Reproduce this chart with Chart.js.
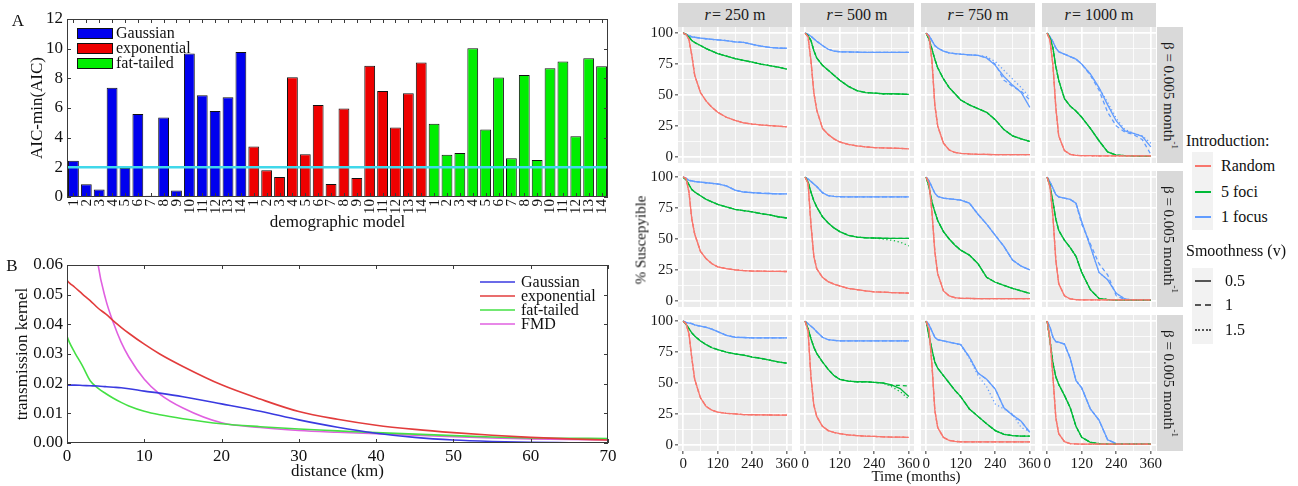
<!DOCTYPE html>
<html><head><meta charset="utf-8">
<script src="https://cdn.jsdelivr.net/npm/chart.js@4/dist/chart.umd.min.js"></script>
<style>
html,body{margin:0;padding:0;background:#fff;}
#fig{position:relative;width:1298px;height:486px;overflow:hidden;font-family:'Liberation Serif',serif;color:#111;}
canvas{position:absolute;}
.t{position:absolute;white-space:nowrap;line-height:1;font-family:'Liberation Serif',serif;font-weight:normal;}
.strip{position:absolute;background:#D9D9D9;color:#1A1A1A;font-size:16px;display:flex;align-items:center;justify-content:center;white-space:nowrap;font-family:'Liberation Serif',serif;font-weight:normal;}
.vstrip{writing-mode:vertical-rl;}
.key{position:absolute;background:#F2F2F2;}
.kl{position:absolute;}
</style></head><body><div id="fig"></div>
<script>
// ---------------- Panel A data ----------------
const demographicModels = ['1','2','3','4','5','6','7','8','9','10','11','12','13','14'];
const gaussianAIC    = [2.45,0.86,0.5,7.36,1.95,5.59,0.08,5.36,0.43,9.68,6.86,5.8,6.73,9.77];
const exponentialAIC = [3.4,1.8,1.34,8.07,2.89,6.21,0.87,5.96,1.28,8.85,7.15,4.69,7.0,9.06];
const fatTailedAIC   = [4.93,2.85,2.96,10.02,4.55,8.05,2.62,8.23,2.49,8.68,9.13,4.1,9.35,8.81];
const aicThreshold = 2;

// ---------------- Panel B data ----------------
const distanceKm   = [0,0.3,1,2,3,4,5,6,7,8,10,12,15,20,25,30,35,40,45,50,55,60,65,70];
const kernelGauss  = [0.0195,0.0195,0.0195,0.0194,0.0193,0.0192,0.019,0.0188,0.0186,0.0183,0.0175,0.0168,0.0156,0.0132,0.0107,0.0078,0.0053,0.0033,0.0019,0.001,0.0005,0.0002,0.0001,0.0];
const kernelExp    = [0.0548,0.054,0.0525,0.0502,0.048,0.0455,0.0435,0.0412,0.039,0.037,0.0333,0.030,0.0258,0.0196,0.0148,0.0106,0.008,0.006,0.0046,0.0035,0.0026,0.0019,0.0014,0.001];
const kernelFat    = [0.036,0.034,0.0305,0.026,0.021,0.0185,0.0167,0.0151,0.0137,0.0125,0.0107,0.0095,0.0082,0.0065,0.0055,0.0047,0.0041,0.0035,0.003,0.0025,0.002,0.0017,0.0016,0.0015];
const kernelFMD    = [0.053,0.25,0.2,0.12,0.085,0.0605,0.0485,0.0405,0.034,0.029,0.0215,0.0165,0.0118,0.0068,0.0052,0.0042,0.0036,0.0031,0.0026,0.0021,0.0017,0.0014,0.0012,0.0011];

// ---------------- Right grid data ----------------
const months = [0,10,20,30,40,60,80,100,120,150,180,210,240,270,300,330,360];
const radiusLabels = ['250','500','750','1000'];
const betaLabel = '0.005';
// rows = beta facets (3), each entry = one radius (250,500,750,1000); v = 0.5 (solid)
const randomRow1 = [
  [100,99,95,82,66,52,45,40,36,32,29.5,27.5,26.5,25.8,25.3,24.8,24.3],
  [100,97,78,52,38,23,18,14.5,12,10,8.8,8,7.5,7.2,7,6.8,6.5],
  [100,97,78,42,25,11,5.5,3.5,2.8,2.3,2,1.9,1.8,1.8,1.8,1.8,1.8],
  [100,94,74,40,17,5,2,1.2,1,0.9,0.8,0.8,0.8,0.8,0.8,0.8,0.8]];
const fociRow1 = [
  [100,99,97,94,92.5,90,87.5,85.5,83.5,81.5,79.5,78,76.5,75,73.8,72.5,71],
  [100,98,94,86,80,74,70,66,62,57,53.5,52,51.5,51,51,50.8,50.5],
  [100,95,87,79,72,63,56,51,46,42,39,36,30,22,17,14.5,12.5],
  [100,96,88,73,62,47,41,37,32,23,13,4,1.3,1,0.7,0.5,0.5]];
const focusRow1 = [
  [100,99,98,97,96.7,96,95.5,95,94.6,94,93,92.5,91,89.5,88.5,88,87.8],
  [100,99,97.5,95.5,93.5,90,87,85.5,85,84.8,84.6,84.5,84.5,84.5,84.5,84.5,84.5],
  [100,98,94,90,88,85.5,84,83.5,83,82.5,82,80,74,65,58,52,40],
  [100,97,93,88,85,83,81,79,75,67,56,42,29,21,19,16.5,8]];
const randomRow2 = [
  [100,99,88,66,54,40,34,30,27.5,26,25,24.5,24,24,23.8,23.8,23.7],
  [100,95,62,36,26,19,15.5,13.5,12,10,9,8,7.3,7,6.7,6.5,6.2],
  [100,95,72,40,22,8,4,2.5,2,1.9,1.8,1.8,1.8,1.8,1.8,1.8,1.8],
  [100,92,68,33,14,4,1.5,1,0.8,0.8,0.8,0.8,0.8,0.8,0.8,0.8,0.8]];
const fociRow2 = [
  [100,98,94,90,88,85,82,80,78,76,74,73,72,70.5,69.5,68,67],
  [100,96,88,81,76,68,63,59,56,53,51.5,51,50.8,50.6,50.5,50.5,50.5],
  [100,92,80,72,65,56,50,45,41,37,30,19,15,12.5,10,8,6],
  [100,93,80,66,57,49,43,36,23,9,2,1,0.5,0.5,0.5,0.5,0.5]];
const focusRow2 = [
  [100,99,97.5,97,96.5,96,95.5,95,94.5,93,89.5,88,87.5,87,86.8,86.5,86.5],
  [100,98.5,96.5,94.5,92.5,87.5,85,84.5,84.2,84,84,84,84,84,84,84,84],
  [100,97,92,87,84.5,83,82.5,82,81.5,79,70,62,53,44,33,28,25],
  [100,96,91,86,84,83,82,79,64,44,23,17,6,1.5,0.5,0.5,0.5]];
const randomRow3 = [
  [100,98,90,70,53,38,31,28,26.5,25.5,25,24.5,24.3,24.2,24.1,24,24],
  [100,92,55,32,23,15,11.5,10,9,8,7.5,7,6.8,6.5,6.3,6.2,6],
  [100,93,65,28,14,6,3.5,2.8,2.5,2.4,2.3,2.3,2.3,2.3,2.3,2.3,2.3],
  [100,85,55,22,9,2.5,1,0.7,0.5,0.5,0.5,0.5,0.5,0.5,0.5,0.5,0.5]];
const fociRow3 = [
  [100,97.5,94,90.5,88,84,81,78.5,77,75,73.5,72.5,71,70,68.5,67,66],
  [100,94,86,79,74,67,61,56,53,51.5,51,51,50.5,50,48.5,45.5,39],
  [100,88,77,67,62,56,50,44,39,29,23,17,11.5,8.5,7.5,7,7],
  [100,84,66,55,49,40,30,15,6,2,1,0.5,0.5,0.5,0.5,0.5,0.5]];
const focusRow3 = [
  [100,99,98.5,98,97,96,95,93.5,91.5,88.5,87,86.8,86.5,86.5,86.5,86.5,86.5],
  [100,98,96,94,91.5,87,85,84.5,84,84,84,84,84,84,84,84,84],
  [100,97,92,87,85,84,83,82,81,71,58,53,45,30,24,19,10],
  [100,95,87,83.5,83,81.5,70,52,46,29,20,4,1,0.5,0.5,0.5,0.5]];
// curves for v = 1 (dashed) / v = 1.5 (dotted) where they separate from v = 0.5
const focusR750Row1Dashed  = [100,98,94,90,88,85.5,84,83.5,83,82.5,82,80,75,62,57,53,46];
const focusR750Row1Dotted  = [100,98,94,90,88,85.5,84,83.5,83,82.5,82,81,77,70,63,56,48];
const focusR1000Row1Dashed = [100,97,93,88,85,83,81,79,75,66,54,36,25,20,18,14,2];
const focusR1000Row1Dotted = [100,97,93,88,85,83,81,79,75,67,56,44,31,22,19,17,11];
const fociR500Row2Dotted   = [100,96,88,81,76,68,63,59,56,53,51.5,51,50.8,50,49,47.5,44.5];
const focusR1000Row2Dashed = [100,96,91,86,84,83,82,79,62,46,30,21,4,1,0.5,0.5,0.5];
const fociR500Row3Dashed   = [100,94,86,79,74,67,61,56,53,51.5,51,51,50.5,50,48,48,47.5];
const fociR500Row3Dotted   = [100,94,86,79,74,67,61,56,53,51.5,51,51,50.5,50,47,43,37];
const focusR750Row3Dotted  = [100,97,92,87,85,84,83,82,81,70,56,47,33,29,25,14,11];

const introNames  = ['Random','5 foci','1 focus'];
const introColors = ['#F8766D','#00BA38','#619CFF'];
const smoothLabels = ['0.5','1','1.5'];
const smoothDashes = [[], [4,3], [1.2,2.6]];

const introRows = [
  [randomRow1, randomRow2, randomRow3],
  [fociRow1, fociRow2, fociRow3],
  [focusRow1, focusRow2, focusRow3]];
const variantTable = [
  {row:0,col:2,intro:2,smooth:1,values:focusR750Row1Dashed},
  {row:0,col:2,intro:2,smooth:2,values:focusR750Row1Dotted},
  {row:0,col:3,intro:2,smooth:1,values:focusR1000Row1Dashed},
  {row:0,col:3,intro:2,smooth:2,values:focusR1000Row1Dotted},
  {row:1,col:1,intro:1,smooth:2,values:fociR500Row2Dotted},
  {row:1,col:3,intro:2,smooth:1,values:focusR1000Row2Dashed},
  {row:2,col:1,intro:1,smooth:1,values:fociR500Row3Dashed},
  {row:2,col:1,intro:1,smooth:2,values:fociR500Row3Dotted},
  {row:2,col:2,intro:2,smooth:2,values:focusR750Row3Dotted}];

// ---------------- helpers ----------------
const SERIF = "'Liberation Serif', serif";
const fig = document.getElementById('fig');
function addCanvas(left, top, w, h) {
  const c = document.createElement('canvas');
  c.width = w; c.height = h;
  c.style.left = left + 'px'; c.style.top = top + 'px';
  c.style.width = w + 'px'; c.style.height = h + 'px';
  fig.appendChild(c);
  return c;
}
function addText(html, x, y, size, opts = {}) {
  const d = document.createElement('div');
  d.className = 't';
  d.innerHTML = html;
  d.style.fontSize = size + 'px';
  d.style.left = x + 'px'; d.style.top = y + 'px';
  let tr = opts.anchor === 'left' ? 'translate(0,-50%)' : 'translate(-50%,-50%)';
  if (opts.rotate) tr += ' rotate(' + opts.rotate + 'deg)';
  d.style.transform = tr;
  if (opts.color) d.style.color = opts.color;
  fig.appendChild(d);
  return d;
}

const boxTicks = {
  id: 'boxTicks',
  afterDatasetsDraw(chart, args, o) {
    const {ctx, chartArea: a} = chart;
    const xs = chart.scales.x, ys = chart.scales.y;
    const L = o.len || 4;
    ctx.save();
    ctx.strokeStyle = '#3a3a3a'; ctx.lineWidth = 1;
    ctx.beginPath();
    xs.ticks.forEach((t, i) => {
      const x = Math.round(xs.getPixelForTick(i)) + 0.5;
      ctx.moveTo(x, a.top); ctx.lineTo(x, a.top + L);
      ctx.moveTo(x, a.bottom); ctx.lineTo(x, a.bottom - L);
    });
    ys.ticks.forEach((t, i) => {
      const y = Math.round(ys.getPixelForTick(i)) + 0.5;
      ctx.moveTo(a.left, y); ctx.lineTo(a.left + L, y);
      ctx.moveTo(a.right, y); ctx.lineTo(a.right - L, y);
    });
    ctx.stroke();
    ctx.strokeRect(Math.round(a.left) + 0.5, Math.round(a.top) + 0.5, Math.round(a.width) - 1, Math.round(a.height) - 1);
    ctx.restore();
  }
};
const refLine = {
  id: 'refLine',
  afterDatasetsDraw(chart, args, o) {
    if (o.value === undefined) return;
    const {ctx, chartArea: a} = chart;
    const y = chart.scales.y.getPixelForValue(o.value);
    ctx.save();
    ctx.strokeStyle = o.color; ctx.lineWidth = o.width;
    ctx.beginPath(); ctx.moveTo(a.left + 1, y); ctx.lineTo(a.right - 1, y); ctx.stroke();
    ctx.restore();
  }
};
// vertical (rotated 90deg) category labels, end of the text at the axis like the original
const rotatedLabels = {
  id: 'rotatedLabels',
  afterDraw(chart, args, o) {
    if (!o.font) return;
    const {ctx, chartArea: a} = chart;
    const xs = chart.scales.x;
    ctx.save();
    ctx.font = o.font; ctx.fillStyle = '#111';
    ctx.textAlign = 'right'; ctx.textBaseline = 'middle';
    xs.ticks.forEach((t, i) => {
      const x = xs.getPixelForTick(i);
      ctx.save();
      ctx.translate(x + 0.5, a.bottom + o.gap);
      ctx.rotate(-Math.PI / 2);
      ctx.fillText(chart.data.labels[i], 0, 0);
      ctx.restore();
    });
    ctx.restore();
  }
};
const inlineLegend = {
  id: 'inlineLegend',
  afterDraw(chart, args, o) {
    if (!o.kind) return;
    const {ctx, chartArea: a} = chart;
    ctx.save();
    ctx.font = o.font; ctx.textBaseline = 'middle';
    chart.data.datasets.forEach((ds, k) => {
      if (!ds.label) return;
      const y = a.top + o.y0 + k * o.dy;
      const x0 = (o.anchor === 'right' ? a.right : a.left) + o.x0;
      if (o.kind === 'box') {
        ctx.fillStyle = ds.backgroundColor;
        ctx.fillRect(x0, y - 5.5, o.w, 11);
        ctx.strokeStyle = '#111'; ctx.lineWidth = 1;
        ctx.strokeRect(x0 + 0.5, y - 5, o.w - 1, 10);
      } else {
        ctx.strokeStyle = ds.borderColor; ctx.lineWidth = 1.6;
        ctx.beginPath(); ctx.moveTo(x0, y); ctx.lineTo(x0 + o.w, y); ctx.stroke();
      }
      ctx.fillStyle = '#111';
      ctx.fillText(ds.label, x0 + o.w + o.gap, y + 0.5);
    });
    ctx.restore();
  }
};

// ---------------- Panel A ----------------
(function () {
  const labels = [...demographicModels, ...demographicModels, ...demographicModels];
  const n = demographicModels.length;
  const blank = new Array(n).fill(null);
  const cv = addCanvas(0, 0, 625, 240);
  new Chart(cv, {
    type: 'bar',
    data: {
      labels,
      datasets: [
        {label: 'Gaussian', data: [...gaussianAIC, ...blank, ...blank], backgroundColor: '#0000EE'},
        {label: 'exponential', data: [...blank, ...exponentialAIC, ...blank], backgroundColor: '#EE0000'},
        {label: 'fat-tailed', data: [...blank, ...blank, ...fatTailedAIC], backgroundColor: '#00EE00'}
      ].map(d => Object.assign(d, {borderColor: '#111', borderWidth: 1, barPercentage: 0.84, categoryPercentage: 1, borderSkipped: 'start'}))
    },
    options: {
      responsive: false, animation: false,
      layout: {padding: {left: 0, top: 19, right: 17, bottom: 0}},
      plugins: {
        legend: {display: false}, tooltip: {enabled: false},
        refLine: {value: aicThreshold, color: '#40D8EA', width: 2.5},
        inlineLegend: {kind: 'box', anchor: 'left', x0: 10, y0: 14.5, dy: 15, w: 36, gap: 3, font: '16px ' + SERIF},
        rotatedLabels: {font: '15px ' + SERIF, gap: 2},
        boxTicks: {len: 4}
      },
      scales: {
        x: {
          stacked: true,
          grid: {display: false}, border: {display: false},
          ticks: {display: false},
          title: {display: true, text: 'demographic model', color: '#111', font: {family: SERIF, size: 17}, padding: {top: 0, bottom: 7}},
          afterFit: s => { s.height = 43; s.paddingLeft = 0; s.paddingRight = 0; }
        },
        y: {
          stacked: true, min: 0, max: 12,
          grid: {display: false, drawTicks: false}, border: {display: false},
          ticks: {stepSize: 2, padding: 4, color: '#111', font: {family: SERIF, size: 17}},
          title: {display: true, text: 'AIC-min(AIC)', color: '#111', font: {family: SERIF, size: 17}, padding: {top: 27, bottom: 0}},
          afterFit: s => { s.width = 67; s.paddingTop = 0; s.paddingBottom = 0; }
        }
      }
    },
    plugins: [boxTicks, refLine, rotatedLabels, inlineLegend]
  });
})();

// ---------------- Panel B ----------------
(function () {
  const cv = addCanvas(0, 240, 625, 246);
  const mk = (label, vals, color) => ({
    label, data: distanceKm.map((d, i) => ({x: d, y: vals[i]})),
    borderColor: color, borderWidth: 1.6, pointRadius: 0, cubicInterpolationMode: 'monotone', fill: false
  });
  new Chart(cv, {
    type: 'line',
    data: {datasets: [
      mk('Gaussian', kernelGauss, '#3A3AE0'),
      mk('exponential', kernelExp, '#E23C3C'),
      mk('fat-tailed', kernelFat, '#44E044'),
      mk('FMD', kernelFMD, '#E060E0')
    ]},
    options: {
      responsive: false, animation: false,
      layout: {padding: {left: 0, top: 25, right: 17, bottom: 0}},
      plugins: {
        legend: {display: false}, tooltip: {enabled: false},
        inlineLegend: {kind: 'line', anchor: 'right', x0: -128, y0: 17, dy: 14, w: 35, gap: 6, font: '16px ' + SERIF},
        boxTicks: {len: 4}
      },
      scales: {
        x: {
          type: 'linear', min: 0, max: 70,
          grid: {display: false, drawTicks: false}, border: {display: false},
          ticks: {stepSize: 10, padding: 3, color: '#111', font: {family: SERIF, size: 17}},
          title: {display: true, text: 'distance (km)', color: '#111', font: {family: SERIF, size: 17}, padding: {top: 0, bottom: 4}},
          afterFit: s => { s.height = 43; s.paddingLeft = 0; s.paddingRight = 0; }
        },
        y: {
          min: 0, max: 0.06,
          grid: {display: false, drawTicks: false}, border: {display: false},
          ticks: {stepSize: 0.01, padding: 4, color: '#111', font: {family: SERIF, size: 17}, callback: v => v.toFixed(2)},
          title: {display: true, text: 'transmission kernel', color: '#111', font: {family: SERIF, size: 17}, padding: {top: 12, bottom: 0}},
          afterFit: s => { s.width = 67; s.paddingTop = 0; s.paddingBottom = 0; }
        }
      }
    },
    plugins: [boxTicks, inlineLegend]
  });
})();

// ---------------- Right facet grid ----------------
const colLefts = [678, 800, 921, 1042];
const rowTops = [27, 171, 315];
const PW = 114, PH = 136;
const monthTicks = [0, 60, 120, 180, 240, 300, 360];
const monthLabelled = [0, 120, 240, 360];
const pctTicks = [0, 12.5, 25, 37.5, 50, 62.5, 75, 87.5, 100];
const pctLabelled = [0, 25, 50, 75, 100];

function facet(i, j) {
  const yAxisW = j === 0 ? 50 : 0;
  const padL = (i === 2 && j > 0) ? 12 : 0;
  const padR = i === 2 ? 14 : 0;
  const extraB = i === 2 ? 26 : 0;
  const cv = addCanvas(colLefts[j] - yAxisW - padL, rowTops[i], PW + yAxisW + padL + padR, PH + extraB);
  const datasets = [];
  for (let g = 0; g < 3; g++) {
    for (let s = 0; s < 3; s++) {
      const v = variantTable.find(e => e.row === i && e.col === j && e.intro === g && e.smooth === s);
      const vals = v ? v.values : introRows[g][i][j];
      datasets.push({
        data: months.map((m, k) => ({x: m, y: vals[k]})),
        borderColor: introColors[g], borderWidth: 1.3, borderDash: smoothDashes[s],
        pointRadius: 0, tension: 0, fill: false
      });
    }
  }
  new Chart(cv, {
    type: 'line',
    data: {datasets},
    plugins: [{
      id: 'panelBg',
      beforeDraw(chart) {
        const {ctx, chartArea: a} = chart;
        ctx.save(); ctx.fillStyle = '#EBEBEB';
        ctx.fillRect(a.left, a.top, a.width, a.height); ctx.restore();
      }
    }],
    options: {
      responsive: false, animation: false,
      layout: {padding: {left: padL, right: padR, top: 0, bottom: 0}},
      plugins: {legend: {display: false}, tooltip: {enabled: false}},
      scales: {
        x: {
          type: 'linear', min: -18, max: 378,
          afterBuildTicks: s => { s.ticks = monthTicks.map(v => ({value: v})); },
          afterFit: s => { s.height = extraB; s.paddingLeft = 0; s.paddingRight = 0; },
          border: {display: false},
          grid: {
            color: '#FFFFFF',
            lineWidth: c => monthLabelled.includes(c.tick && c.tick.value) ? 1.7 : 0.8,
            tickLength: 3, tickWidth: 1,
            tickColor: c => (i === 2 && monthLabelled.includes(c.tick && c.tick.value)) ? '#333' : 'rgba(0,0,0,0)'
          },
          ticks: {display: i === 2, autoSkip: false, maxRotation: 0, padding: 1, color: '#1A1A1A',
            font: {family: SERIF, size: 15}, callback: v => monthLabelled.includes(v) ? String(v) : ''}
        },
        y: {
          min: -5, max: 105,
          afterBuildTicks: s => { s.ticks = pctTicks.map(v => ({value: v})); },
          afterFit: s => { s.width = yAxisW; s.paddingTop = 0; s.paddingBottom = 0; },
          border: {display: false},
          grid: {
            color: '#FFFFFF',
            lineWidth: c => pctLabelled.includes(c.tick && c.tick.value) ? 1.7 : 0.8,
            tickLength: 3, tickWidth: 1,
            tickColor: c => (j === 0 && pctLabelled.includes(c.tick && c.tick.value)) ? '#333' : 'rgba(0,0,0,0)'
          },
          ticks: {display: j === 0, autoSkip: false, padding: 2, color: '#1A1A1A',
            font: {family: SERIF, size: 15}, callback: v => pctLabelled.includes(v) ? String(v) : ''}
        }
      }
    }
  });
}
for (let i = 0; i < 3; i++) for (let j = 0; j < 4; j++) facet(i, j);

// strips
radiusLabels.forEach((r, j) => {
  const d = document.createElement('div');
  d.className = 'strip';
  d.style.left = colLefts[j] + 'px'; d.style.top = '3px';
  d.style.width = PW + 'px'; d.style.height = '24px';
  d.innerHTML = '<i>r</i>&#8202;= ' + r + ' m';
  fig.appendChild(d);
});
rowTops.forEach(t => {
  const d = document.createElement('div');
  d.className = 'strip';
  d.style.left = '1157px'; d.style.top = t + 'px';
  d.style.width = '26px'; d.style.height = PH + 'px';
  d.style.fontSize = '15px';
  d.innerHTML = '<span class="vstrip">β = ' + betaLabel + ' month<sup style="font-size:9px">-1</sup></span>';
  fig.appendChild(d);
});

// panel letters and titles
addText('A', 18, 20, 17);
addText('B', 12, 265, 17);
addText('% Suscepyible', 641, 240, 15, {rotate: -90});
addText('Time (months)', 916, 476, 15);

// legends (right)
addText('Introduction:', 1186, 141, 16, {anchor: 'left'});
const k1 = document.createElement('div'); k1.className = 'key';
Object.assign(k1.style, {left: '1192px', top: '152px', width: '21px', height: '78px'}); fig.appendChild(k1);
const introY = [165.5, 191.5, 217];
introNames.forEach((nm, g) => {
  const l = document.createElement('div'); l.className = 'kl';
  Object.assign(l.style, {left: '1195px', top: (introY[g] - 1) + 'px', width: '16px', height: '2px', background: introColors[g]});
  fig.appendChild(l);
  addText(nm, 1221, introY[g], 16, {anchor: 'left'});
});
addText('Smoothness (v)', 1186, 251, 16, {anchor: 'left'});
const k2 = document.createElement('div'); k2.className = 'key';
Object.assign(k2.style, {left: '1192px', top: '268px', width: '21px', height: '76px'}); fig.appendChild(k2);
const smoothY = [280.5, 305, 330];
const cssDash = ['solid', 'dashed', 'dotted'];
smoothLabels.forEach((nm, s) => {
  const l = document.createElement('div'); l.className = 'kl';
  Object.assign(l.style, {left: '1195px', top: (smoothY[s] - 1) + 'px', width: '16px', height: '0px', borderTop: '2px ' + cssDash[s] + ' #555'});
  fig.appendChild(l);
  addText(nm, 1225, smoothY[s], 16, {anchor: 'left'});
});
</script></body></html>
